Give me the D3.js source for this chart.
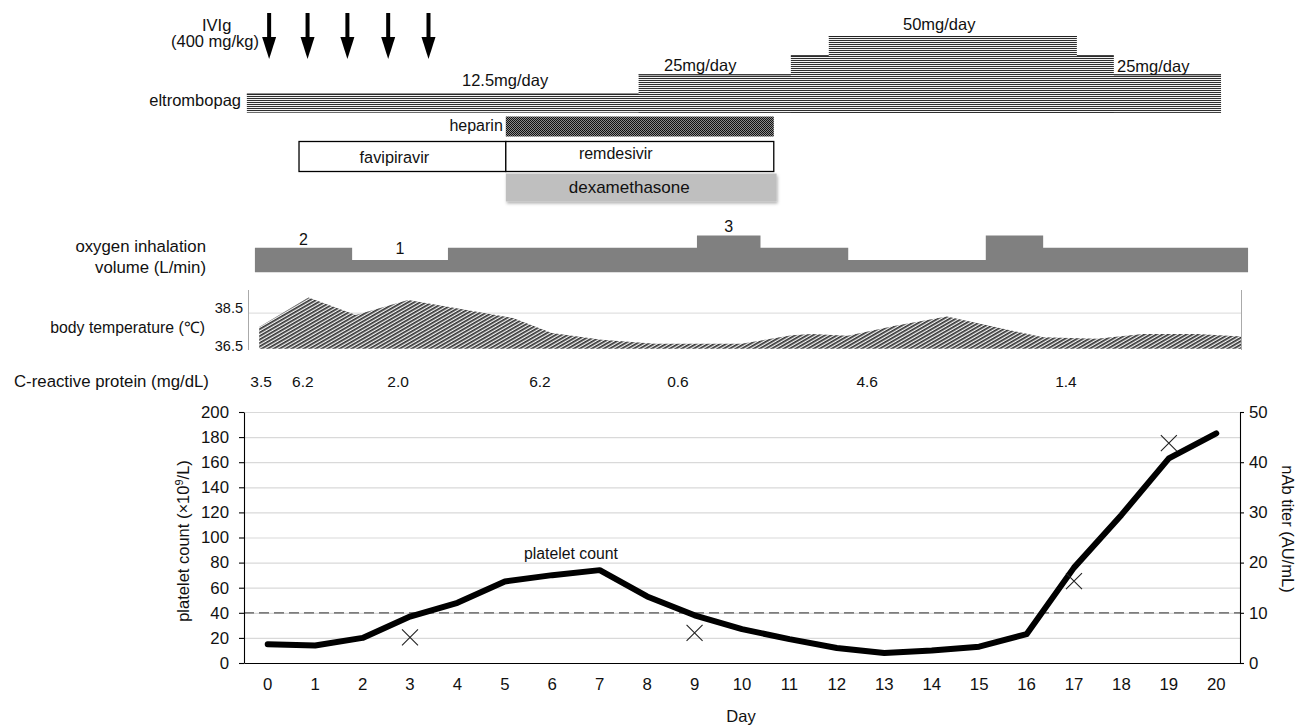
<!DOCTYPE html>
<html><head><meta charset="utf-8">
<script src="https://cdn.jsdelivr.net/npm/d3@7"></script>
<style>body{margin:0;background:#fff}svg{display:block}text{font-family:"Liberation Sans",Arial,sans-serif;fill:#111}</style>
</head><body>
<svg id="c" width="1305" height="725"></svg>
<script>
// ---------------- data ----------------
const days = d3.range(0, 21);
const dayLabels = days.map(String);
const plateletCount = [15,14,20,37,48,65,70,74,53,38,27,19,12,8,10,13,23,76,118,163,183];
const nabDays = [3, 9, 17, 19];
const nabTiter = [5.1, 6.0, 16.3, 43.8];
const nabThreshold = 10;
const leftTicks = [0,20,40,60,80,100,120,140,160,180,200];
const rightTicks = [0,10,20,30,40,50];

const ivigDays = [0.03, 0.84, 1.68, 2.54, 3.39];

const eltStart = [-0.44, 7.82, 11.03, 11.83];
const eltEnd   = [20.10, 20.10, 17.84, 17.06];
const eltDose  = [12.5, 25, 37.5, 50];

const drugNames = ["heparin", "favipiravir", "remdesivir", "dexamethasone"];
const drugStart = [5.02, 0.66, 5.02, 5.02];
const drugEnd   = [10.67, 5.02, 10.67, 10.73];

const oxyStart = [-0.27, 1.78, 3.80, 9.05, 10.39, 12.24, 15.14, 16.35];
const oxyEndLast = 20.67;
const oxyFlow  = [2, 1, 2, 3, 2, 1, 3, 2];

const tempDays = [-0.18,0.86,1.86,2.96,3.98,5.17,5.99,7.04,8.17,9.99,11.05,11.47,12.23,13.23,14.32,16.35,17.48,18.45,19.59,20.54];
const tempValues = [37.72,39.38,38.4,39.24,38.78,38.22,37.38,37.0,36.78,36.78,37.25,37.32,37.23,37.79,38.31,37.14,37.06,37.32,37.32,37.19];
const tempTicks = [36.5, 38.5];

const crpDays = [-0.14, 0.74, 2.75, 5.74, 8.65, 12.64, 16.83];
const crpValues = ["3.5","6.2","2.0","6.2","0.6","4.6","1.4"];

// ---------------- setup ----------------
const svg = d3.select("#c");
const FONT = '"Liberation Sans",Arial,sans-serif';
const defs = svg.append("defs");

// stripes for eltrombopag
const pS = defs.append("pattern").attr("id","stripes").attr("patternUnits","userSpaceOnUse")
  .attr("width",4).attr("height",2);
pS.append("rect").attr("width",4).attr("height",2).attr("fill","#f2f2f2");
pS.append("rect").attr("width",4).attr("height",1).attr("fill","#2e2e2e");
// dotted for heparin
const pH = defs.append("pattern").attr("id","dots").attr("patternUnits","userSpaceOnUse")
  .attr("width",2).attr("height",2);
pH.append("rect").attr("width",2).attr("height",2).attr("fill","#8a8a8a");
pH.append("rect").attr("width",1).attr("height",1).attr("fill","#111");
pH.append("rect").attr("x",1).attr("y",1).attr("width",1).attr("height",1).attr("fill","#111");
// diagonal hatch for temperature
const pT = defs.append("pattern").attr("id","hatch").attr("patternUnits","userSpaceOnUse")
  .attr("width",3).attr("height",3).attr("patternTransform","rotate(-30)");
pT.append("rect").attr("width",3).attr("height",3).attr("fill","#f4f4f4");
pT.append("rect").attr("width",3).attr("height",1.7).attr("fill","#333");
// shadow
const f = defs.append("filter").attr("id","shadow").attr("x","-5%").attr("y","-20%").attr("width","110%").attr("height","160%");
f.append("feDropShadow").attr("dx",1).attr("dy",2).attr("stdDeviation",1.5).attr("flood-color","#000").attr("flood-opacity",0.3);

// main scales
const x = d3.scaleBand().domain(days).range([244, 1240]).paddingInner(0).paddingOuter(0);
const bw = x.bandwidth();
const cx = d => x(d) + bw / 2;
// timeline scale for top panels (in days)
const xT = d3.scaleLinear().domain([0, 20]).range([cx(0), cx(20)]);
const yL = d3.scaleLinear().domain([0, 200]).range([663, 412]);
const yR = d3.scaleLinear().domain([0, 50]).range([663, 412]);

// ---------------- IVIg ----------------
svg.append("text").attr("x",202).attr("y",31).attr("font-size",16.5).text("IVIg");
svg.append("text").attr("x",171).attr("y",47).attr("font-size",16.5).text("(400 mg/kg)");
ivigDays.forEach(d => {
  const ax = xT(d);
  svg.append("rect").attr("x",ax-2).attr("y",13).attr("width",4).attr("height",27).attr("fill","#000");
  svg.append("path").attr("d",`M${ax-7},37 L${ax+7},37 L${ax},59 Z`).attr("fill","#000");
});

// ---------------- eltrombopag ----------------
const yDose = d3.scaleLinear().domain([0, 50]).range([112.7, 36]);
eltDose.forEach((dose, i) => {
  const x0 = xT(eltStart[i]), x1 = xT(eltEnd[i]);
  svg.append("rect").attr("x",x0).attr("y",yDose(dose)).attr("width",x1-x0)
    .attr("height",yDose(0)-yDose(dose)).attr("fill","url(#stripes)");
  svg.append("line").attr("x1",x0).attr("x2",x1).attr("y1",yDose(dose)+0.5).attr("y2",yDose(dose)+0.5)
    .attr("stroke","#222").attr("stroke-width",1);
});
svg.append("text").attr("x",241).attr("y",106).attr("text-anchor","end").attr("font-size",16.5).text("eltrombopag");
svg.append("text").attr("x",462).attr("y",86).attr("font-size",16.5).text("12.5mg/day");
svg.append("text").attr("x",664).attr("y",71).attr("font-size",16.5).text("25mg/day");
svg.append("text").attr("x",903).attr("y",30).attr("font-size",16.5).text("50mg/day");
svg.append("text").attr("x",1117).attr("y",72).attr("font-size",16.5).text("25mg/day");

// ---------------- drugs ----------------
// heparin
{
  const x0 = xT(drugStart[0]), x1 = xT(drugEnd[0]);
  svg.append("rect").attr("x",x0).attr("y",116.5).attr("width",x1-x0).attr("height",20).attr("fill","url(#dots)");
  svg.append("text").attr("x",x0-3).attr("y",131).attr("text-anchor","end").attr("font-size",16).text(drugNames[0]);
}
// favipiravir
{
  const x0 = xT(drugStart[1]), x1 = xT(drugEnd[1]);
  svg.append("rect").attr("x",x0).attr("y",141.5).attr("width",x1-x0).attr("height",30)
    .attr("fill","#fff").attr("stroke","#000").attr("stroke-width",1.3);
  svg.append("text").attr("x",(x0+x1)/2-8).attr("y",163).attr("text-anchor","middle").attr("font-size",16.3).text(drugNames[1]);
}
// remdesivir
{
  const x0 = xT(drugStart[2]), x1 = xT(drugEnd[2]);
  svg.append("rect").attr("x",x0).attr("y",141.5).attr("width",x1-x0).attr("height",30)
    .attr("fill","#fff").attr("stroke","#000").attr("stroke-width",1.3);
  svg.append("text").attr("x",(x0+x1)/2-24).attr("y",159).attr("text-anchor","middle").attr("font-size",16).text(drugNames[2]);
}
// dexamethasone
{
  const x0 = xT(drugStart[3]), x1 = xT(drugEnd[3]);
  svg.append("rect").attr("x",x0).attr("y",173.5).attr("width",x1-x0).attr("height",28)
    .attr("fill","#bfbfbf").attr("filter","url(#shadow)");
  svg.append("text").attr("x",(x0+x1)/2-12).attr("y",192.5).attr("text-anchor","middle").attr("font-size",17).text(drugNames[3]);
}

// ---------------- oxygen ----------------
const yOx = d3.scaleLinear().domain([0, 3]).range([272.3, 235.4]);
const oxyPts = oxyStart.map((s, i) => ({d: s, v: oxyFlow[i]}));
oxyPts.push({d: oxyEndLast, v: oxyFlow[oxyFlow.length - 1]});
svg.append("path").datum(oxyPts)
  .attr("d", d3.area().curve(d3.curveStepAfter).x(p => xT(p.d)).y0(yOx(0)).y1(p => yOx(p.v)))
  .attr("fill","#808080");
[0, 1, 3].forEach(i => {
  const mid = (xT(oxyStart[i]) + xT(oxyStart[i+1])) / 2;
  svg.append("text").attr("x",mid).attr("y",yOx(oxyFlow[i]) - (oxyFlow[i] === 1 ? 6 : 3))
    .attr("text-anchor","middle").attr("font-size",16).text(String(oxyFlow[i]));
});
svg.append("text").attr("x",206).attr("y",252).attr("text-anchor","end").attr("font-size",16.8).text("oxygen inhalation");
svg.append("text").attr("x",206).attr("y",273).attr("text-anchor","end").attr("font-size",16.8).text("volume (L/min)");

// ---------------- temperature ----------------
const yTemp = d3.scaleLinear().domain([36.5, 39.8]).range([348.7, 290]);
svg.append("line").attr("x1",248).attr("x2",1242).attr("y1",yTemp(38.5)).attr("y2",yTemp(38.5))
  .attr("stroke","#d9d9d9").attr("stroke-width",1);
svg.append("path").datum(tempDays.map((d, i) => ({d, v: tempValues[i]})))
  .attr("d", d3.area().x(p => xT(p.d)).y0(yTemp(36.5)).y1(p => yTemp(p.v)))
  .attr("fill","url(#hatch)");
svg.append("line").attr("x1",248.5).attr("x2",248.5).attr("y1",290).attr("y2",350).attr("stroke","#aaa");
svg.append("line").attr("x1",1241.5).attr("x2",1241.5).attr("y1",290).attr("y2",350).attr("stroke","#aaa");
tempTicks.forEach(t => {
  svg.append("text").attr("x",243).attr("y",yTemp(t)+ (t === 36.5 ? 2.5 : 0)).attr("text-anchor","end")
    .attr("font-size",14.5).text(t.toFixed(1));
});
svg.append("text").attr("x",205).attr("y",333).attr("text-anchor","end").attr("font-size",15.8).text("body temperature (℃)");

// ---------------- CRP ----------------
svg.append("text").attr("x",14).attr("y",387).attr("font-size",16.8).text("C-reactive protein (mg/dL)");
crpDays.forEach((d, i) => {
  svg.append("text").attr("x",xT(d)).attr("y",387).attr("text-anchor","middle").attr("font-size",15.5).text(crpValues[i]);
});

// ---------------- main chart ----------------
const g = svg.append("g");
g.selectAll("line.grid").data(leftTicks.filter(t => t > 0)).join("line").attr("class","grid")
  .attr("x1",244).attr("x2",1240).attr("y1",d => yL(d)+0.5).attr("y2",d => yL(d)+0.5)
  .attr("stroke","#d9d9d9").attr("stroke-width",1.2);

// threshold
g.append("line").attr("x1",244).attr("x2",1240).attr("y1",yR(nabThreshold)).attr("y2",yR(nabThreshold))
  .attr("stroke","#555").attr("stroke-width",1.3).attr("stroke-dasharray","10,5");

const axL = g.append("g").attr("transform","translate(244,0)")
  .call(d3.axisLeft(yL).tickValues(leftTicks).tickSize(5).tickSizeOuter(0).tickPadding(10));
const axR = g.append("g").attr("transform","translate(1240,0)")
  .call(d3.axisRight(yR).tickValues(rightTicks).tickSize(4).tickSizeOuter(0).tickPadding(5));
const axB = g.append("g").attr("transform","translate(0,663)")
  .call(d3.axisBottom(x).tickFormat((d, i) => dayLabels[i]).tickSize(0).tickSizeOuter(0).tickPadding(15));
[axL, axR, axB].forEach(a => {
  a.selectAll("text").attr("font-size",16.8).attr("font-family",FONT).attr("fill","#111");
  a.selectAll("path,line").attr("stroke","#000").attr("stroke-width",1.1);
});

// platelet line
g.append("path").datum(plateletCount)
  .attr("d", d3.line().x((v, i) => cx(days[i])).y(v => yL(v)))
  .attr("fill","none").attr("stroke","#000").attr("stroke-width",6)
  .attr("stroke-linejoin","round").attr("stroke-linecap","round");

// nAb markers
nabDays.forEach((d, i) => {
  const px = cx(d), py = yR(nabTiter[i]), s = 8;
  g.append("path").attr("d",`M${px-s},${py-s}L${px+s},${py+s}M${px-s},${py+s}L${px+s},${py-s}`)
    .attr("stroke","#222").attr("stroke-width",1.1).attr("fill","none");
});

g.append("text").attr("x",571).attr("y",559).attr("text-anchor","middle").attr("font-size",15.8).text("platelet count");
g.append("text").attr("x",741).attr("y",722).attr("text-anchor","middle").attr("font-size",16.5).text("Day");

g.append("text").attr("transform","translate(189,541) rotate(-90)").attr("text-anchor","middle").attr("font-size",16.5)
  .html('platelet count (×10<tspan dy="-6" font-size="11">9</tspan><tspan dy="6">/L)</tspan>');
g.append("text").attr("transform","translate(1282,529) rotate(90)").attr("text-anchor","middle").attr("font-size",16.5)
  .text("nAb titer (AU/mL)");
</script>
</body></html>
